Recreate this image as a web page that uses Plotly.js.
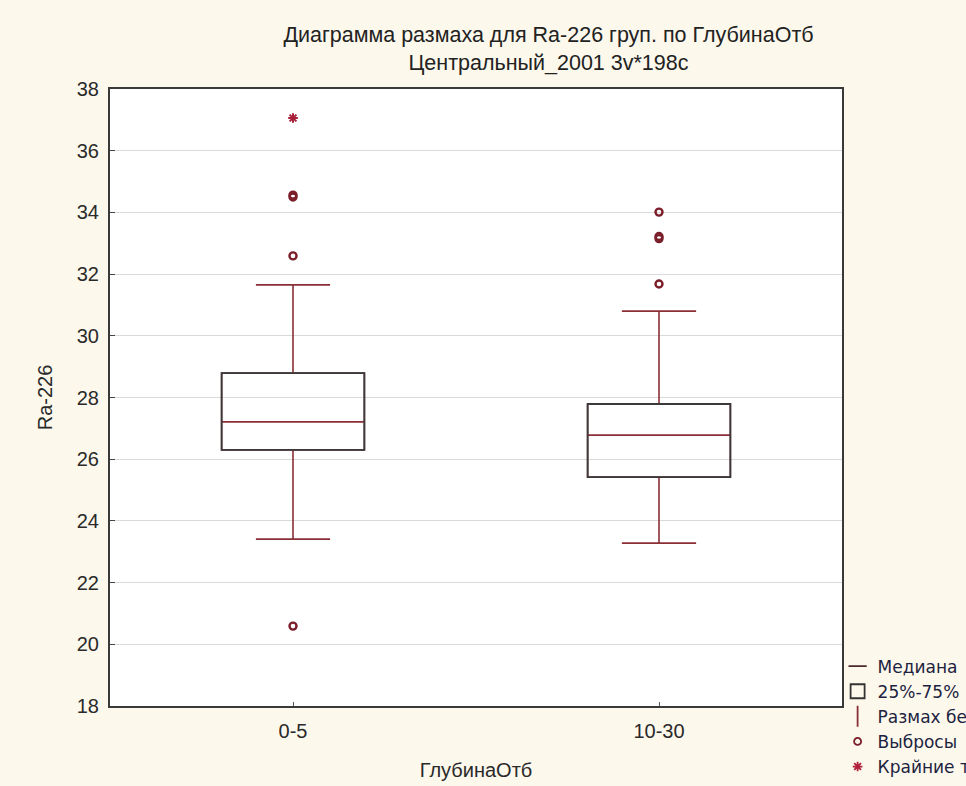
<!DOCTYPE html>
<html>
<head>
<meta charset="utf-8">
<script src="https://cdn.plot.ly/plotly-3.0.1.min.js"></script>
<style>html,body{margin:0;padding:0;background:#fcf8ec;}</style>
</head>
<body>
<div id="chart" style="width:966px;height:786px;"></div>
<script>
// ---- data ----
const categories = ['0-5', '10-30'];
const q1Values = [26.30, 25.42];
const medianValues = [27.21, 26.78];
const q3Values = [28.79, 27.79];
const lowerWhisker = [23.41, 23.28];
const upperWhisker = [31.65, 30.80];
const outlierGroup = ['0-5', '0-5', '0-5', '0-5', '10-30', '10-30', '10-30', '10-30'];
const outlierValues = [34.50, 34.56, 32.59, 20.59, 34.01, 33.22, 33.15, 31.68];
const extremeGroup = ['0-5'];
const extremeValues = [37.06];
const legendLabels = ['Медиана', '25%-75%', 'Размах без выбросов', 'Выбросы', 'Крайние точки'];
const titleLines = ['Диаграмма размаха для Ra-226 груп. по ГлубинаОтб', 'Центральный_2001 3v*198c'];
const xTitle = 'ГлубинаОтб';
const yTitle = 'Ra-226';

const red = '#8a2f36';
const dark = '#3a3a3a';
const boxWidth = 0.39;
const txt = '#2a2a2a';

const traces = [{
  type: 'box',
  x: categories,
  q1: q1Values,
  median: medianValues,
  q3: q3Values,
  lowerfence: lowerWhisker,
  upperfence: upperWhisker,
  width: boxWidth,
  whiskerwidth: 0.52,
  line: {color: red, width: 1.6},
  fillcolor: 'rgba(0,0,0,0)',
  boxpoints: false,
  hoverinfo: 'skip',
  showlegend: false
}, {
  type: 'scatter', mode: 'markers',
  x: outlierGroup, y: outlierValues,
  marker: {symbol: 'circle-open', size: 7, color: '#7a1e2a', line: {width: 2.4, color: '#7a1e2a'}},
  showlegend: false
}, {
  type: 'scatter', mode: 'markers',
  x: extremeGroup, y: extremeValues,
  marker: {symbol: 'asterisk-open', size: 8, color: '#a8203a', line: {width: 2, color: '#a8203a'}},
  showlegend: false
}];

// legend-only traces
const legendSymbols = [
  {symbol: 'line-ew-open', color: '#4a2a30', size: 13},
  {symbol: 'square-open', color: '#333', size: 14},
  {symbol: 'line-ns-open', color: red, size: 15},
  {symbol: 'circle-open', color: '#7a1e2a', size: 7},
  {symbol: 'asterisk-open', color: '#b0203a', size: 8}
];
legendLabels.forEach((lab, i) => {
  traces.push({
    type: 'scatter', mode: 'markers', x: [null], y: [null], name: lab,
    marker: {symbol: legendSymbols[i].symbol, size: legendSymbols[i].size, color: legendSymbols[i].color,
             line: {width: 1.8, color: legendSymbols[i].color}},
    showlegend: true
  });
});

const shapes = categories.map((c, i) => ({
  type: 'rect', xref: 'x', yref: 'y',
  x0: i - boxWidth / 2, x1: i + boxWidth / 2,
  y0: q1Values[i], y1: q3Values[i],
  line: {color: dark, width: 1.8}, layer: 'above'
}));

const layout = {
  width: 966, height: 786,
  paper_bgcolor: '#fcf8ec',
  plot_bgcolor: '#ffffff',
  margin: {l: 110, r: 124, t: 89, b: 80, autoexpand: false},
  font: {family: 'Liberation Sans, Arial, sans-serif', color: txt},
  title: {
    text: titleLines.join('<br>'),
    x: 0.599, xref: 'paper', xanchor: 'center',
    yref: 'container', y: 0.947, yanchor: 'middle',
    font: {size: 21.5, color: '#222'}
  },
  xaxis: {
    type: 'category', range: [-0.5, 1.5],
    showline: true, linecolor: dark, linewidth: 2, mirror: true,
    ticks: 'inside', ticklen: 4, tickcolor: '#555',
    showgrid: false, zeroline: false,
    ticklabelstandoff: 6,
    tickfont: {size: 20, color: txt},
    title: {text: xTitle, font: {size: 20, color: txt}, standoff: 22}
  },
  yaxis: {
    range: [18, 38], dtick: 2, tick0: 18,
    showline: true, linecolor: dark, linewidth: 2, mirror: true,
    ticks: 'inside', ticklen: 5, tickcolor: '#444',
    showgrid: true, gridcolor: '#d9d9d9', gridwidth: 1, zeroline: false,
    ticklabelstandoff: 5,
    tickfont: {size: 20, color: txt},
    title: {text: yTitle, font: {size: 20, color: txt}, standoff: 19}
  },
  shapes: shapes,
  showlegend: true,
  legend: {
    x: 0.994, xanchor: 'left', y: 0.093, yanchor: 'top',
    bgcolor: 'rgba(0,0,0,0)', borderwidth: 0,
    font: {family: 'DejaVu Sans, sans-serif', size: 17, color: '#1c2340'},
    itemwidth: 30, tracegroupgap: 0
  }
};

Plotly.newPlot('chart', traces, layout, {displayModeBar: false, staticPlot: true});
</script>
</body>
</html>
